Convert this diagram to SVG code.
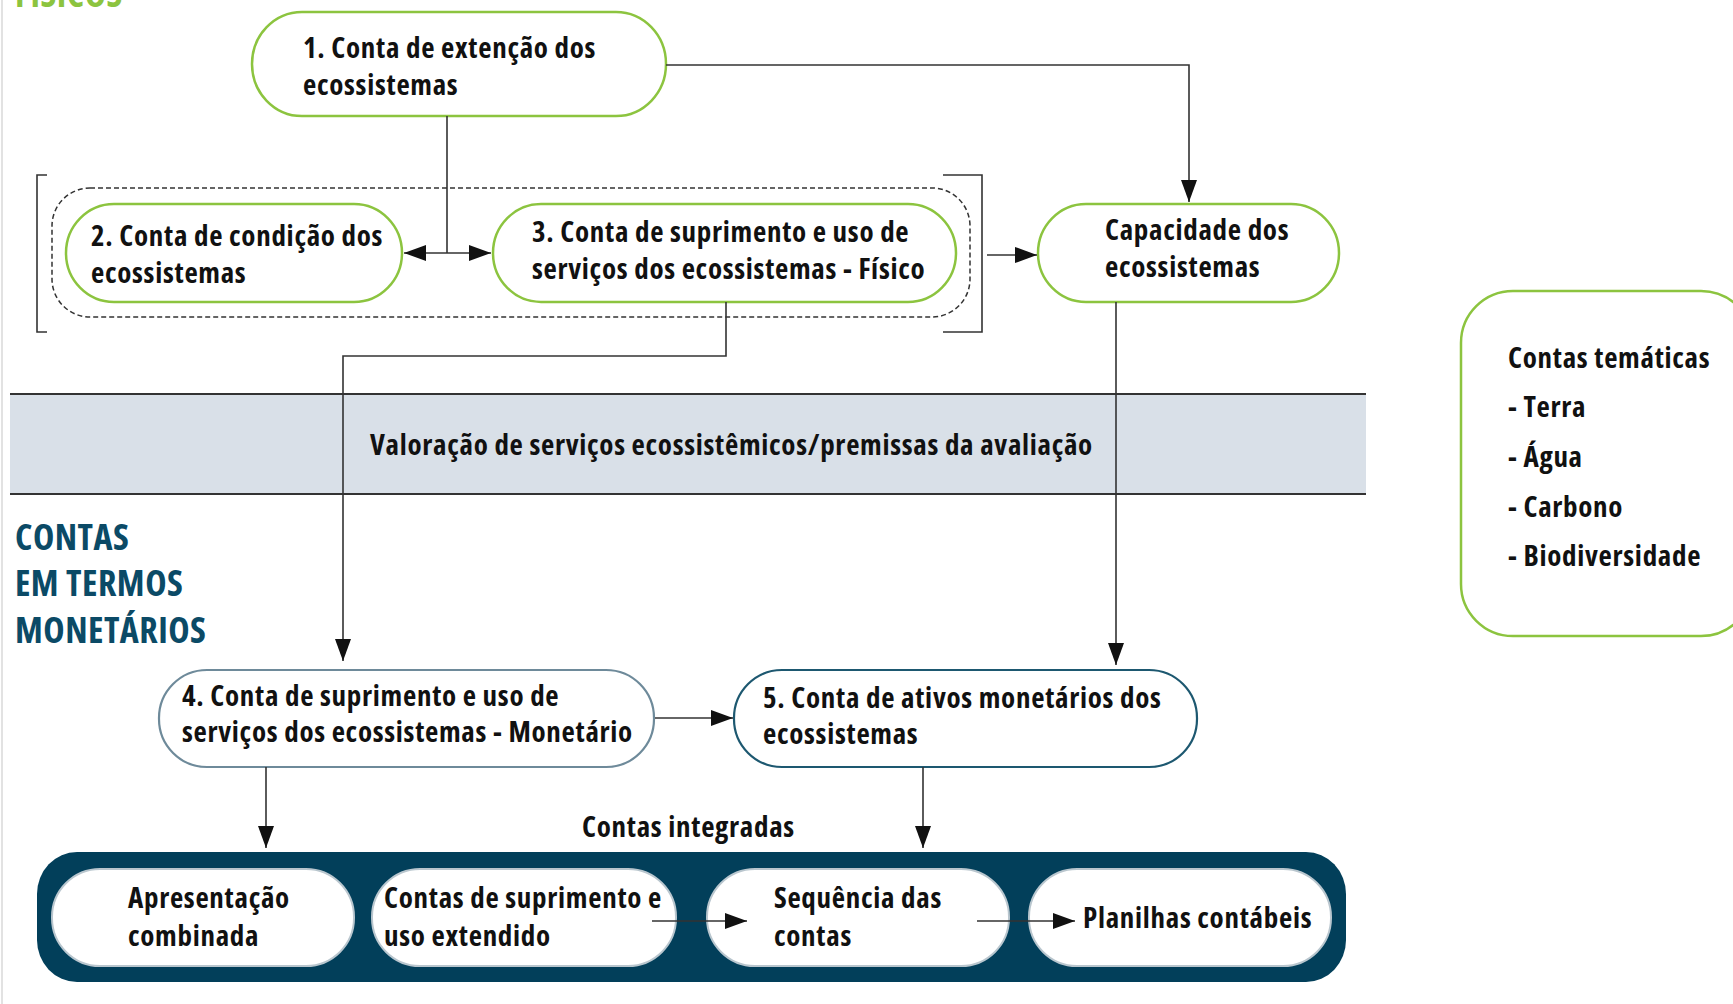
<svg xmlns="http://www.w3.org/2000/svg" width="1733" height="1004" viewBox="0 0 1733 1004">
<defs>
<style>
.t{font-family:"Open Sans","Noto Sans","Liberation Sans Narrow",sans-serif;font-stretch:condensed;font-weight:700;font-size:29px;letter-spacing:0.7px;fill:#111}
.h{font-family:"Open Sans","Noto Sans","Liberation Sans Narrow",sans-serif;font-stretch:condensed;font-weight:700;font-size:36px;letter-spacing:0.5px}
.g{fill:#fff;stroke:#8cc43f;stroke-width:2.5}
.c{fill:none;stroke:#333;stroke-width:1.6}
.p{fill:#fff;stroke:#b9c6ce;stroke-width:2}
</style>
<marker id="a" viewBox="0 0 22 16" refX="22" refY="8" markerWidth="22" markerHeight="16" markerUnits="userSpaceOnUse" orient="auto-start-reverse"><path d="M0,0 L22,8 L0,16 Z" fill="#111"/></marker>
</defs>
<rect width="1733" height="1004" fill="#fff"/>
<line x1="2" y1="0" x2="2" y2="1004" stroke="#e2e2e2" stroke-width="2"/>
<text class="h" x="15" y="7" fill="#8cc43f">FÍSICOS</text>
<g id="band">
<rect x="10" y="394" width="1356" height="100" fill="#d9e0e8"/>
<line x1="10" y1="394" x2="1366" y2="394" stroke="#333" stroke-width="2"/>
<line x1="10" y1="494" x2="1366" y2="494" stroke="#333" stroke-width="2"/>
<text class="t" x="370" y="455">Valoração de serviços ecossistêmicos/premissas da avaliação</text>
</g>
<g id="label-monetarios">
<text class="h" x="15" y="550" fill="#0b4a66">CONTAS</text>
<text class="h" x="15" y="596" fill="#0b4a66">EM TERMOS</text>
<text class="h" x="15" y="643" fill="#0b4a66">MONETÁRIOS</text>
</g>
<g id="group-fisico">
<rect x="52" y="188" width="918" height="129" rx="38" ry="38" fill="none" stroke="#333" stroke-width="1.5" stroke-dasharray="5,3"/>
<path class="c" d="M47,175 H37 V332 H47"/>
<path class="c" d="M943,175 H982 V332 H943"/>
</g>
<g id="node1">
<rect class="g" x="252" y="12" width="414" height="104" rx="50" ry="52"/>
<text class="t" x="303" y="58">1. Conta de extenção dos</text>
<text class="t" x="303" y="95">ecossistemas</text>
</g>
<g id="node2">
<rect class="g" x="66" y="204" width="336" height="98" rx="48" ry="49"/>
<text class="t" x="91" y="246">2. Conta de condição dos</text>
<text class="t" x="91" y="283">ecossistemas</text>
</g>
<g id="node3">
<rect class="g" x="493" y="204" width="463" height="98" rx="48" ry="49"/>
<text class="t" x="532" y="242">3. Conta de suprimento e uso de</text>
<text class="t" x="532" y="279">serviços dos ecossistemas - Físico</text>
</g>
<g id="capacidade">
<rect class="g" x="1038" y="204" width="301" height="98" rx="48" ry="49"/>
<text class="t" x="1105" y="240">Capacidade dos</text>
<text class="t" x="1105" y="277">ecossistemas</text>
</g>
<g id="tematicas">
<rect class="g" x="1461" y="291" width="292" height="345" rx="52" ry="52"/>
<text class="t" x="1508" y="368">Contas temáticas</text>
<text class="t" x="1508" y="417">- Terra</text>
<text class="t" x="1508" y="467">- Água</text>
<text class="t" x="1508" y="517">- Carbono</text>
<text class="t" x="1508" y="566">- Biodiversidade</text>
</g>
<g id="node4">
<rect x="159" y="670" width="495" height="97" rx="48" ry="48" fill="#fff" stroke="#6e8a9a" stroke-width="2.2"/>
<text class="t" x="182" y="706">4. Conta de suprimento e uso de</text>
<text class="t" x="182" y="742">serviços dos ecossistemas - Monetário</text>
</g>
<g id="node5">
<rect x="734" y="670" width="463" height="97" rx="48" ry="48" fill="#fff" stroke="#1d5870" stroke-width="2.2"/>
<text class="t" x="763" y="708">5. Conta de ativos monetários dos</text>
<text class="t" x="763" y="744">ecossistemas</text>
</g>
<text class="t" x="582" y="837">Contas integradas</text>
<g id="integradas">
<rect x="37" y="852" width="1309" height="130" rx="40" ry="42" fill="#023f5a"/>
</g>
<g id="pill1">
<rect class="p" x="52" y="869" width="302" height="97" rx="48" ry="48"/>
<text class="t" x="128" y="908">Apresentação</text>
<text class="t" x="128" y="946">combinada</text>
</g>
<g id="pill2">
<rect class="p" x="372" y="869" width="304" height="97" rx="48" ry="48"/>
<text class="t" x="384" y="908">Contas de suprimento e</text>
<text class="t" x="384" y="946">uso extendido</text>
</g>
<g id="pill3">
<rect class="p" x="707" y="869" width="302" height="97" rx="48" ry="48"/>
<text class="t" x="774" y="908">Sequência das</text>
<text class="t" x="774" y="946">contas</text>
</g>
<g id="pill4">
<rect class="p" x="1029" y="869" width="302" height="97" rx="48" ry="48"/>
<text class="t" x="1083" y="928">Planilhas contábeis</text>
</g>
<g id="connectors">
<path class="c" d="M447,116 V253"/>
<path class="c" d="M404,253 H491" marker-start="url(#a)" marker-end="url(#a)"/>
<path class="c" d="M666,65 H1189 V202" marker-end="url(#a)"/>
<path class="c" d="M987,255 H1037" marker-end="url(#a)"/>
<path class="c" d="M726,302 V356 H343 V661" marker-end="url(#a)"/>
<path class="c" d="M1116,302 V665" marker-end="url(#a)"/>
<path class="c" d="M655,718 H733" marker-end="url(#a)"/>
<path class="c" d="M266,767 V848" marker-end="url(#a)"/>
<path class="c" d="M923,767 V848" marker-end="url(#a)"/>
<path class="c" d="M652,921 H747" marker-end="url(#a)"/>
<path class="c" d="M977,921 H1075" marker-end="url(#a)"/>
</g>
</svg>
